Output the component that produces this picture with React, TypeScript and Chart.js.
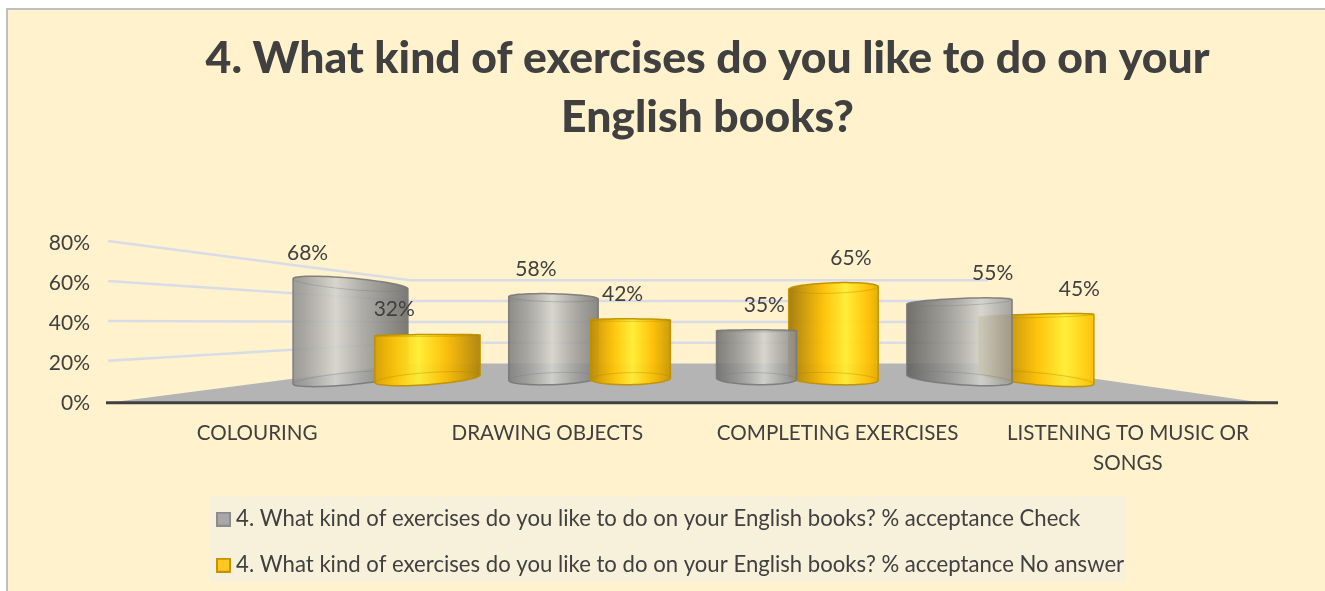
import React, { useEffect, useRef } from "react";
import { Chart, registerables } from "chart.js";

Chart.register(...registerables);

const categories = [
  "COLOURING",
  "DRAWING OBJECTS",
  "COMPLETING EXERCISES",
  ["LISTENING TO MUSIC OR", "SONGS"],
];
const checkValues = [68, 58, 35, 55];
const noAnswerValues = [32, 42, 65, 45];
const yTickValues = [0, 20, 40, 60, 80];
const titleLines = ["4. What kind of exercises do you like to do on your", "English books?"];
const checkLabel = "4. What kind of exercises do you like to do on your English books? % acceptance Check";
const noAnswerLabel = "4. What kind of exercises do you like to do on your English books? % acceptance No answer";

const FONT = "Lato, Carlito, 'Noto Sans', sans-serif";
const INK = "#404040";
const EYE_Y = 330;
const CENTER_X = 693.5;

function swatch(fill: string, stroke: string) {
  const c = document.createElement("canvas");
  c.width = 15;
  c.height = 15;
  const g = c.getContext("2d")!;
  g.fillStyle = fill;
  g.fillRect(0, 0, 15, 15);
  g.strokeStyle = stroke;
  g.lineWidth = 2;
  g.strokeRect(1, 1, 13, 13);
  return c;
}

type RGB = [number, number, number];
const mix = (a: RGB, b: RGB, t: number): string => {
  const k = Math.max(0, Math.min(1, t));
  return `rgb(${a.map((v, i) => Math.round(v + (b[i] - v) * k)).join(",")})`;
};

const palettes: Record<string, { hi: RGB; mid: RGB; lo: RGB; edge: string; cap: string; alpha: number }> = {
  gray: { hi: [210, 210, 205], mid: [160, 160, 158], lo: [88, 88, 86], edge: "rgba(120,120,120,0.9)", cap: "rgba(120,120,120,0.35)", alpha: 0.88 },
  gold: { hi: [255, 238, 50], mid: [255, 192, 0], lo: [135, 100, 10], edge: "rgba(190,145,0,0.95)", cap: "rgba(170,130,0,0.35)", alpha: 0.95 },
};

function ringPoint(cx: number, cy: number, w: number, ry: number, t: number) {
  const slope = 5.5e-6 * (cy - EYE_Y) * (cx - CENTER_X);
  const dx = (w / 2) * Math.cos(t);
  return [cx + dx, cy + ry * Math.sin(t) + slope * dx];
}

function drawCylinder(ctx: CanvasRenderingContext2D, cx: number, top: number, base: number, w: number, kind: string) {
  const p = palettes[kind];
  const ryTop = Math.max(1, 0.11 * Math.abs(top - EYE_Y));
  const ryBase = Math.max(1, 0.11 * Math.abs(base - EYE_Y));
  const left = cx - w / 2;
  const hp = 0.56 + (cx - CENTER_X) * 0.00055;
  const grad = ctx.createLinearGradient(left, 0, left + w, 0);
  for (let i = 0; i <= 10; i++) {
    const o = i / 10;
    const d = Math.abs(o - hp);
    const c = d < 0.25 ? mix(p.hi, p.mid, d / 0.25) : mix(p.mid, p.lo, (d - 0.25) / 0.5);
    grad.addColorStop(o, c);
  }
  grad.addColorStop(hp, mix(p.hi, p.hi, 0));

  const path = () => {
    ctx.beginPath();
    for (let i = 0; i <= 32; i++) {
      const t = Math.PI + (i / 32) * Math.PI;
      const [x, y] = ringPoint(cx, top + ryTop, w, ryTop, t);
      i === 0 ? ctx.moveTo(x, y) : ctx.lineTo(x, y);
    }
    for (let i = 0; i <= 32; i++) {
      const t = (i / 32) * Math.PI;
      const [x, y] = ringPoint(cx, base - ryBase, w, ryBase, t);
      ctx.lineTo(x, y);
    }
    ctx.closePath();
  };

  ctx.save();
  ctx.globalAlpha = p.alpha;
  ctx.fillStyle = grad;
  path();
  ctx.fill();
  ctx.globalAlpha = 1;
  ctx.strokeStyle = p.edge;
  ctx.lineWidth = 1.5;
  path();
  ctx.stroke();

  ctx.strokeStyle = p.cap;
  ctx.lineWidth = 1;
  ctx.beginPath();
  for (let i = 0; i <= 32; i++) {
    const [x, y] = ringPoint(cx, top + ryTop, w, ryTop, (i / 32) * Math.PI);
    i === 0 ? ctx.moveTo(x, y) : ctx.lineTo(x, y);
  }
  ctx.stroke();
  ctx.beginPath();
  for (let i = 0; i <= 32; i++) {
    const [x, y] = ringPoint(cx, base - ryBase, w, ryBase, Math.PI + (i / 32) * Math.PI);
    i === 0 ? ctx.moveTo(x, y) : ctx.lineTo(x, y);
  }
  ctx.stroke();
  ctx.restore();
}

const scene = {
  id: "scene",
  afterLayout(chart: any) {
    chart.titleBlock.left = 142;
    chart.legend.left = 222 - 24;
    chart.legend.top = 484;
  },
  beforeDraw(chart: any) {
    const { ctx, width, height, scales } = chart;
    ctx.save();
    ctx.fillStyle = "#ffffff";
    ctx.fillRect(0, 0, width, height);
    ctx.fillStyle = "#fff2cc";
    ctx.fillRect(6, 8, width - 6, height - 8);
    ctx.strokeStyle = "#bfbfbf";
    ctx.lineWidth = 2;
    ctx.beginPath();
    ctx.moveTo(7, height);
    ctx.lineTo(7, 9);
    ctx.lineTo(width, 9);
    ctx.stroke();
    ctx.fillStyle = "#f7f0da";
    ctx.fillRect(210, 496, 916, 86);

    const y = scales.y;
    const backLeft = 410;
    const backRight = 988;
    const frontLeft = y.left + y.width - 4;
    const mid = y.getPixelForValue(40);
    const backY = (v: number) => mid - 1 + (y.getPixelForValue(v) - mid) * 0.52;

    const f = y.getPixelForValue(0);
    ctx.fillStyle = "#b4b4b4";
    ctx.beginPath();
    ctx.moveTo(frontLeft, f);
    ctx.lineTo(backLeft, backY(0));
    ctx.lineTo(backRight, backY(0));
    ctx.lineTo(chart.chartArea.right - 10, f);
    ctx.closePath();
    ctx.fill();

    ctx.strokeStyle = "#d9dce6";
    ctx.lineWidth = 2.5;
    yTickValues.slice(1).forEach((v) => {
      ctx.beginPath();
      ctx.moveTo(frontLeft, y.getPixelForValue(v) - 2);
      ctx.lineTo(backLeft, backY(v));
      ctx.lineTo(backRight, backY(v));
      ctx.stroke();
    });

    ctx.strokeStyle = "#404040";
    ctx.lineWidth = 3;
    ctx.beginPath();
    ctx.moveTo(frontLeft - 2, f);
    ctx.lineTo(chart.chartArea.right + 5, f);
    ctx.stroke();
    ctx.restore();
  },
  beforeDatasetDraw() {
    return false;
  },
  afterDatasetsDraw(chart: any) {
    const { ctx } = chart;
    const a = chart.getDatasetMeta(0).data;
    const b = chart.getDatasetMeta(1).data;
    const widthOf = (el: any) => el.width - 5 + 0.125 * Math.abs(el.x - CENTER_X);
    a.forEach((grayEl: any, i: number) => {
      const goldEl = b[i];
      const gray = () => drawCylinder(ctx, grayEl.x, grayEl.y, grayEl.base, widthOf(grayEl), "gray");
      const gold = () => drawCylinder(ctx, goldEl.x, goldEl.y, goldEl.base, widthOf(goldEl), "gold");
      if (grayEl.x < CENTER_X - 100) {
        gray();
        gold();
      } else {
        gold();
        gray();
      }
    });
    ctx.save();
    ctx.font = `21px ${FONT}`;
    ctx.fillStyle = INK;
    ctx.textAlign = "center";
    ctx.textBaseline = "middle";
    chart.data.datasets.forEach((ds: any, di: number) => {
      chart.getDatasetMeta(di).data.forEach((el: any, i: number) => {
        ctx.fillText(`${ds.data[i].y}%`, el.x + 0.125 * (el.x - CENTER_X), el.y - 25);
      });
    });
    ctx.restore();
  },
};

export default function App() {
  const ref = useRef<HTMLCanvasElement>(null);
  useEffect(() => {
    const toPoints = (vals: number[]) => vals.map((v, i) => ({ x: i, y: v }));
    const chart = new Chart(ref.current!, {
      type: "bar",
      data: {
        labels: categories as any,
        datasets: [
          {
            label: checkLabel,
            data: toPoints(checkValues) as any,
            backgroundColor: "#a5a5a5",
            xAxisID: "xb",
            yAxisID: "yb",
            barThickness: 77,
          },
          {
            label: noAnswerLabel,
            data: toPoints(noAnswerValues) as any,
            backgroundColor: "#ffc000",
            xAxisID: "xb",
            yAxisID: "yb",
            barThickness: 77,
          },
        ],
      },
      options: {
        responsive: false,
        animation: false,
        devicePixelRatio: 1,
        layout: { padding: { left: 0, right: 52, top: 0, bottom: 0 } },
        plugins: {
          tooltip: { enabled: false },
          title: {
            display: true,
            text: titleLines,
            color: INK,
            font: { family: FONT, size: 44.5, weight: "900", lineHeight: 1.326 },
            padding: { top: 29.5, bottom: 95.5 },
          },
          legend: {
            display: true,
            position: "bottom",
            align: "start",
            labels: {
              color: INK,
              font: { family: FONT, size: 22.13 },
              usePointStyle: true,
              pointStyleWidth: 3,
              padding: 24,
              generateLabels: (c: any) =>
                c.data.datasets.map((ds: any, i: number) => ({
                  text: ds.label,
                  datasetIndex: i,
                  fontColor: INK,
                  pointStyle: i === 0 ? swatch("#a8a8a8", "#8c8c8c") : swatch("#ffc71f", "#c49400"),
                  hidden: false,
                })),
            },
          },
        },
        scales: {
          x: {
            type: "category",
            position: "bottom",
            grid: { display: false, drawTicks: false },
            border: { display: false },
            afterFit: (s: any) => {
              s.height = 86;
            },
            ticks: {
              color: INK,
              padding: 16,
              maxRotation: 0,
              autoSkip: false,
              font: { family: FONT, size: 20.6, lineHeight: 1.45 },
            },
          },
          y: {
            type: "linear",
            position: "left",
            min: 0,
            max: 80,
            grid: { display: false, drawTicks: false },
            border: { display: false },
            afterFit: (s: any) => {
              s.width = 112;
            },
            ticks: {
              color: INK,
              padding: 22,
              stepSize: 20,
              callback: (v: any) => `${v}%`,
              font: { family: FONT, size: 21 },
            },
          },
          xb: { type: "linear", display: false, offset: false, bounds: "data", min: -1.3645, max: 4.355, grid: { display: false }, ticks: { stepSize: 1, includeBounds: false } },
          yb: { type: "linear", display: false, min: -11.54, max: 90.38, grid: { display: false } },
        },
      },
      plugins: [scene],
    } as any);
    return () => chart.destroy();
  }, []);
  return (
    <div style={{ position: "absolute", left: 0, top: 0, width: 1325, height: 591 }}>
      <canvas ref={ref} width={1325} height={591} style={{ display: "block" }} />
    </div>
  );
}
